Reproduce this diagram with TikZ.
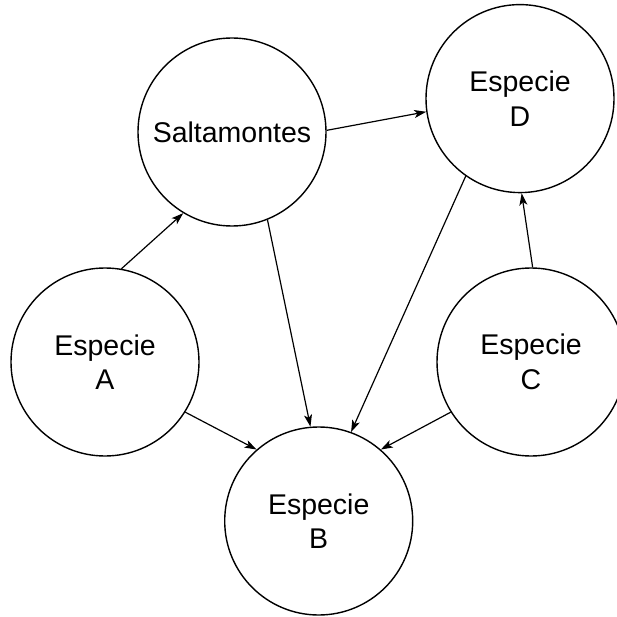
\documentclass[tikz,border=0pt]{standalone}
\usepackage{fontspec}
\setmainfont{Liberation Sans}
\usetikzlibrary{arrows.meta}
\begin{document}
\begin{tikzpicture}[x=1pt,y=-1pt,
  species/.style={circle,draw,line width=1.4pt,minimum size=188pt,inner sep=0pt,
    align=center,font=\fontsize{28.5}{34.5}\selectfont},
  link/.style={line width=1.2pt,-{Stealth[length=12pt,width=8pt,inset=3pt]}}]
\useasboundingbox (0,0) rectangle (616,617);
\node[species] (S) at (232,132) {Saltamontes};
\node[species] (D) at (520,98.6) {Especie\\D};
\node[species] (A) at (105,362) {Especie\\A};
\node[species] (C) at (531,362) {Especie\\C};
\node[species] (B) at (318.7,521) {Especie\\B};
\draw[link] (A.80.8) -- (S.239);
\draw[link] (S.1.4) -- (D.188);
\draw[link] (S.292.3) -- (B.95.6);
\draw[link] (D.235.3) -- (B.70);
\draw[link] (C.89.4) -- (D.271);
\draw[link] (A.328.2) -- (B.131);
\draw[link] (C.212.2) -- (B.49);
\end{tikzpicture}
\end{document}
